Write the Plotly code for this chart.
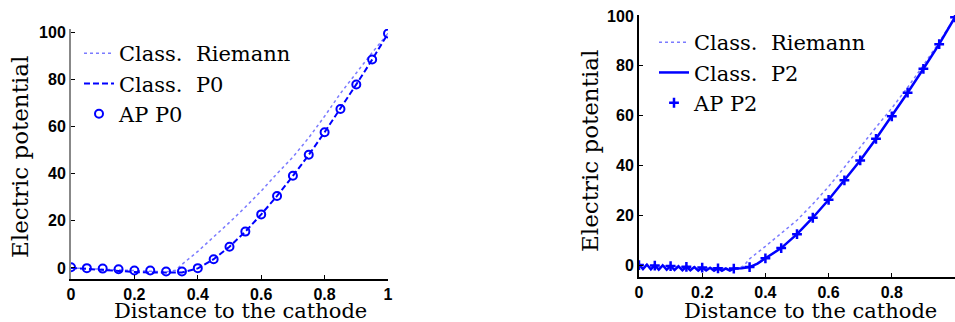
import plotly.graph_objects as go

# ---------------- data ----------------
x_ap = [0, 0.05, 0.1, 0.15, 0.2, 0.25, 0.3, 0.35, 0.4, 0.45, 0.5,
        0.55, 0.6, 0.65, 0.7, 0.75, 0.8, 0.85, 0.9, 0.95, 1.0]

# Left panel
riem_left_x = [0, 0.05, 0.1, 0.15, 0.2, 0.25, 0.3, 0.33, 0.35, 0.4, 0.45, 0.5,
               0.55, 0.6, 0.65, 0.7, 0.75, 0.8, 0.85, 0.9, 0.95, 1.0]
riem_left_y = [0.0, -0.3, -0.6, -0.9, -1.2, -1.5, -1.7, -1.0, 1.5, 7.0, 13.0, 19.3,
               25.8, 32.6, 40.0, 47.0, 55.2, 64.3, 74.0, 82.8, 91.3, 99.4]
p0_left_x = [0, 0.05, 0.1, 0.15, 0.2, 0.25, 0.3, 0.35, 0.4, 0.45, 0.5,
             0.55, 0.6, 0.65, 0.7, 0.75, 0.8, 0.85, 0.9, 0.95, 1.0]
p0_left_y = [0.0, -0.5, -0.9, -1.3, -1.7, -2.0, -2.0, -1.9, -0.2, 3.7, 9.0,
             15.4, 22.7, 30.5, 39.0, 47.9, 57.5, 67.4, 77.8, 88.3, 99.4]
ap_p0_y = [0.3, -0.1, -0.3, -0.6, -1.1, -1.1, -1.5, -1.5, -0.1, 3.7, 9.0,
           15.4, 22.7, 30.5, 39.1, 48.0, 57.5, 67.4, 77.8, 88.4, 99.4]

# Right panel
riem_right_x = [0, 0.05, 0.1, 0.15, 0.2, 0.25, 0.3, 0.33, 0.35, 0.4, 0.45, 0.5,
                0.55, 0.6, 0.65, 0.7, 0.75, 0.8, 0.85, 0.9, 0.95, 1.0]
riem_right_y = [0.0, -0.3, -0.6, -0.9, -1.2, -1.4, -1.5, -0.5, 2.5, 7.5, 12.6, 18.0,
                24.5, 31.5, 39.3, 47.5, 55.3, 63.0, 71.3, 80.2, 89.5, 99.6]
p2_right_x = [0, 0.0125, 0.025, 0.0375, 0.05, 0.0625, 0.075, 0.0875, 0.1, 0.1125,
              0.125, 0.1375, 0.15, 0.1625, 0.175, 0.1875, 0.2, 0.2125, 0.225,
              0.2375, 0.25, 0.2625, 0.275, 0.2875, 0.3, 0.325, 0.35, 0.375, 0.4,
              0.45, 0.5, 0.55, 0.6, 0.65, 0.7, 0.75, 0.8, 0.85, 0.9, 0.95, 1.0]
p2_right_y = [0.3, -1.6, 0.2, -1.7, 0.0, -1.8, -0.1, -1.9, -0.3, -2.0,
              -0.5, -2.1, -0.6, -2.1, -0.8, -2.2, -1.0, -2.2, -1.1,
              -2.3, -1.3, -2.3, -1.4, -2.2, -1.4, -1.3, -0.8, 0.6, 2.7,
              6.8, 12.4, 19.0, 26.2, 34.0, 42.0, 50.7, 59.7, 69.2, 78.8, 88.7, 99.5]
ap_p2_y = [0.0, -0.2, -0.4, -0.7, -1.0, -1.3, -1.4, -0.8, 2.7, 6.8, 12.4,
           19.0, 26.2, 34.0, 42.0, 50.7, 59.7, 69.2, 78.8, 88.7, 99.5]

x_ticks = [0, 0.2, 0.4, 0.6, 0.8, 1]
x_ticklabels = ["0", "0.2", "0.4", "0.6", "0.8", "1"]
y_ticks = [0, 20, 40, 60, 80, 100]

names_left = ["Class.\u00a0 Riemann", "Class.\u00a0 P0", "AP P0"]
names_right = ["Class.\u00a0 Riemann", "Class.\u00a0 P2", "AP P2"]
x_title = "Distance to the cathode"
y_title = "Electric potential"

BLUE = "#0000ff"
LIGHT = "#7b7bff"
SERIF = "DejaVu Serif, serif"
SANS = "Liberation Sans, Arial, sans-serif"

fig = go.Figure()
# left
fig.add_trace(go.Scatter(x=riem_left_x, y=riem_left_y, mode="lines", name=names_left[0],
                         line=dict(color=LIGHT, width=1.5, dash="dot"),
                         xaxis="x", yaxis="y", legend="legend"))
fig.add_trace(go.Scatter(x=p0_left_x, y=p0_left_y, mode="lines", name=names_left[1],
                         line=dict(color=BLUE, width=2, dash="6px,3px"),
                         xaxis="x", yaxis="y", legend="legend"))
fig.add_trace(go.Scatter(x=x_ap, y=ap_p0_y, mode="markers", name=names_left[2],
                         marker=dict(symbol="circle-open", size=8, color=BLUE,
                                     line=dict(width=2, color=BLUE)),
                         xaxis="x", yaxis="y", legend="legend"))
# right
fig.add_trace(go.Scatter(x=riem_right_x, y=riem_right_y, mode="lines", name=names_right[0],
                         line=dict(color=LIGHT, width=1.5, dash="dot"),
                         xaxis="x2", yaxis="y2", legend="legend2"))
fig.add_trace(go.Scatter(x=p2_right_x, y=p2_right_y, mode="lines", name=names_right[1],
                         line=dict(color=BLUE, width=2.5),
                         xaxis="x2", yaxis="y2", legend="legend2"))
fig.add_trace(go.Scatter(x=x_ap, y=ap_p2_y, mode="markers", name=names_right[2],
                         marker=dict(symbol="cross-thin", size=7, color=BLUE,
                                     line=dict(width=2.5, color=BLUE)),
                         xaxis="x2", yaxis="y2", legend="legend2"))

W, H = 955, 322
def fx(px):
    return px / W
def fy(py):
    return 1 - py / H

axis_common = dict(showgrid=False, zeroline=False, ticks="inside", ticklen=4,
                   tickfont=dict(family=SANS, size=16, color="black", weight="bold"),
                   showline=True, mirror=False, automargin=False)

fig.update_layout(
    template="none",
    width=W, height=H, margin=dict(l=0, r=0, t=0, b=0, autoexpand=False),
    paper_bgcolor="white", plot_bgcolor="white", showlegend=True,
    xaxis=dict(domain=[fx(71), fx(388)], range=[0, 1], tickvals=x_ticks,
               ticktext=x_ticklabels, anchor="y", linecolor="black", linewidth=2,
               tickcolor="black", **axis_common),
    yaxis=dict(domain=[fy(279), fy(29)], range=[-4.7, 101.3], tickvals=y_ticks,
               anchor="x", linecolor="#888888", linewidth=2, tickcolor="black",
               **axis_common),
    xaxis2=dict(domain=[fx(639), 1.0], range=[0, 1], tickvals=x_ticks,
                ticktext=x_ticklabels, anchor="y2", linecolor="black", linewidth=2,
                tickcolor="black", **axis_common),
    yaxis2=dict(domain=[fy(277), fy(15)], range=[-4.8, 100.4], tickvals=y_ticks,
                anchor="x2", linecolor="black", linewidth=2, tickcolor="black",
                **axis_common),
    legend=dict(x=fx(79), y=fy(33), xanchor="left", yanchor="top",
                bgcolor="rgba(0,0,0,0)", font=dict(family=SERIF, size=21, color="black"),
                tracegroupgap=0),
    legend2=dict(x=fx(654), y=fy(22), xanchor="left", yanchor="top",
                 bgcolor="rgba(0,0,0,0)", font=dict(family=SERIF, size=21, color="black"),
                 tracegroupgap=0),
)

annos = [
    dict(text=x_title, x=fx(240), y=fy(311), xref="paper", yref="paper",
         xanchor="center", yanchor="middle",
         showarrow=False, font=dict(family=SERIF, size=21, color="black")),
    dict(text=x_title, x=fx(810), y=fy(311), xref="paper", yref="paper",
         xanchor="center", yanchor="middle",
         showarrow=False, font=dict(family=SERIF, size=21, color="black")),
    dict(text=y_title, x=fx(20), y=fy(157), xref="paper", yref="paper", textangle=-90,
         xanchor="center", yanchor="middle",
         showarrow=False, font=dict(family=SERIF, size=23, color="black")),
    dict(text=y_title, x=fx(590), y=fy(151), xref="paper", yref="paper", textangle=-90,
         xanchor="center", yanchor="middle",
         showarrow=False, font=dict(family=SERIF, size=23, color="black")),
]
fig.update_layout(annotations=annos)

fig.write_html("out.html", config={"displayModeBar": False},
               post_script="document.body.style.margin='0px';document.body.style.overflow='hidden';")
